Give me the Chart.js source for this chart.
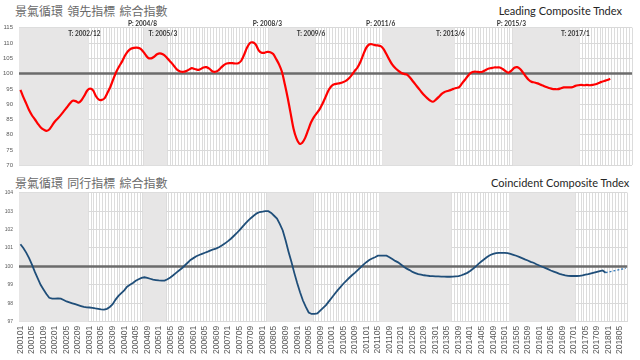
<!DOCTYPE html>
<html><head><meta charset="utf-8">
<script src="https://cdn.jsdelivr.net/npm/chart.js@4/dist/chart.umd.min.js"></script>
<style>
html,body{margin:0;padding:0;background:#fff;width:640px;height:360px;overflow:hidden;position:relative;}
canvas{position:absolute;left:0;}
#c1{top:0;}
#c2{top:175px;}
.t{position:absolute;white-space:nowrap;line-height:1;}
.zh{font-family:"Noto Sans CJK TC","Noto Sans CJK SC",sans-serif;font-size:12px;color:#6a6a6a;left:15px;word-spacing:1.5px;}
.en{font-family:Lato,sans-serif;font-size:11px;color:#262626;}
</style></head><body>
<div class="t zh" style="top:5px">景氣循環 領先指標 綜合指數</div>
<div class="t en" style="top:4.9px;right:18px">Leading Composite Tndex</div>
<div class="t zh" style="top:176.6px">景氣循環 同行指標 綜合指數</div>
<div class="t en" style="top:176.5px;right:10.7px">Coincident Composite Tndex</div>
<canvas id="c1" width="640" height="175"></canvas>
<canvas id="c2" width="640" height="185"></canvas>
<script>
// ---- categories: monthly 2001/01 .. 2018/07
const firstYear = 2001, lastYear = 2018, lastMonth = 7;
const months = [];
for (let y = firstYear; y <= lastYear; y++) {
  for (let m = 1; m <= 12; m++) {
    if (y === lastYear && m > lastMonth) break;
    months.push(String(y) + String(m).padStart(2, '0'));
  }
}
const tickEvery = 4;

// ---- turning points (peaks / troughs)
const peaks   = ['200408', '200803', '201106', '201503'];
const troughs = ['200212', '200503', '200906', '201306', '201701'];
const refLevel = 100;

// ---- Leading composite index (2001/01 .. 2018/01)
const leading = [
  94.7, 92.3, 90.2, 88.0, 86.3, 85.0, 83.6, 82.4, 81.7, 81.3, 81.8, 83.2,
  84.5, 85.5, 86.6, 87.8, 89.0, 90.2, 91.1, 91.0, 90.5, 91.3, 92.8, 94.5,
  95.1, 94.5, 92.6, 91.5, 91.4, 92.0, 93.8, 95.8, 98.3, 100.6, 102.4, 104.0,
  105.9, 107.3, 108.1, 108.4, 108.5, 108.3, 107.5, 106.2, 105.1, 105.0, 105.5, 106.3,
  106.6, 106.3, 105.6, 104.5, 103.5, 102.3, 101.2, 100.7, 100.6, 100.8, 101.3, 101.8,
  101.5, 101.2, 101.5, 102.0, 102.1, 101.6, 100.8, 100.6, 101.0, 101.9, 102.8, 103.3,
  103.4, 103.4, 103.3, 103.4, 104.2, 106.2, 108.5, 110.0, 110.2, 109.5, 107.6, 106.8,
  106.8, 107.1, 107.0, 106.4, 104.8, 103.0, 100.6, 96.5, 92.0, 87.0, 82.0, 78.8,
  77.1, 77.4, 79.0, 81.5, 84.0, 85.8, 87.1, 88.4, 90.2, 92.3, 94.5, 95.9,
  96.5, 96.7, 96.9, 97.2, 97.6, 98.4, 99.5, 100.8, 102.0, 103.8, 106.2, 108.4,
  109.5, 109.6, 109.3, 109.2, 109.0, 108.0, 106.3, 104.5, 102.9, 101.8, 101.0, 100.3,
  99.9, 99.7, 98.8, 97.6, 96.4, 95.2, 94.0, 92.9, 92.0, 91.2, 90.8, 91.5,
  92.4, 93.4, 94.0, 94.3, 94.6, 95.0, 95.3, 95.6, 96.8, 98.0, 99.2, 100.2,
  100.6, 100.6, 100.5, 100.6, 101.1, 101.6, 101.8, 102.0, 102.0, 102.0, 101.5, 100.8,
  100.3, 101.0, 101.9, 102.1, 101.5, 100.3, 99.0, 97.9, 97.3, 97.1, 96.8, 96.4,
  96.0, 95.6, 95.3, 95.0, 94.9, 94.9, 95.2, 95.5, 95.5, 95.5, 95.6, 96.0,
  96.2, 96.3, 96.2, 96.3, 96.2, 96.3, 96.5, 96.9, 97.3, 97.6, 97.9, 98.3
];

// ---- Coincident composite index (2001/01 .. 2017/12)
const coincident = [
  101.2, 101.0, 100.75, 100.45, 100.1, 99.7, 99.35, 99.0, 98.75, 98.5, 98.3, 98.25,
  98.25, 98.27, 98.25, 98.18, 98.1, 98.05, 98.0, 97.95, 97.9, 97.85, 97.8, 97.78,
  97.77, 97.75, 97.72, 97.7, 97.67, 97.66, 97.7, 97.8, 97.95, 98.2, 98.4, 98.55,
  98.7, 98.9, 99.0, 99.1, 99.22, 99.3, 99.38, 99.41, 99.38, 99.33, 99.28, 99.26,
  99.24, 99.23, 99.23, 99.3, 99.4, 99.52, 99.65, 99.78, 99.9, 100.05, 100.2, 100.35,
  100.45, 100.55, 100.62, 100.68, 100.74, 100.8, 100.87, 100.93, 100.98, 101.05, 101.15, 101.25,
  101.37, 101.5, 101.65, 101.8, 101.97, 102.15, 102.32, 102.48, 102.63, 102.76, 102.88, 102.95,
  102.97, 103.0, 103.0, 102.9, 102.75, 102.6, 102.3, 101.95, 101.4, 100.8, 100.25, 99.65,
  99.1, 98.6, 98.15, 97.8, 97.5, 97.42, 97.42, 97.45, 97.6, 97.75, 97.9, 98.1,
  98.3, 98.5, 98.7, 98.88, 99.06, 99.22, 99.37, 99.52, 99.65, 99.8, 99.95, 100.1,
  100.23, 100.35, 100.43, 100.5, 100.58, 100.59, 100.59, 100.58, 100.5, 100.4, 100.3, 100.22,
  100.1, 99.98, 99.88, 99.8, 99.7, 99.64, 99.58, 99.55, 99.52, 99.5, 99.48, 99.47,
  99.46, 99.46, 99.45, 99.45, 99.44, 99.44, 99.45, 99.46, 99.47, 99.52, 99.58, 99.65,
  99.75, 99.87, 100.0, 100.15, 100.28, 100.4, 100.52, 100.62, 100.68, 100.72, 100.74, 100.74,
  100.73, 100.72, 100.68, 100.63, 100.58, 100.52, 100.45, 100.38, 100.32, 100.25, 100.2, 100.12,
  100.05, 99.98, 99.92, 99.85, 99.78, 99.72, 99.66, 99.6, 99.55, 99.51, 99.49, 99.48,
  99.48, 99.48, 99.49, 99.51, 99.55, 99.58, 99.62, 99.66, 99.7, 99.74, 99.78, 99.66
];

// ---- Coincident dotted extension
const trendMonths = ['201712', '201807'];
const trendValues = [99.66, 99.9];

// ---- axis ticks
const leadTicks = {min: 70, max: 115, step: 5};
const coinTicks = {min: 97, max: 104, step: 1};

// shaded periods: peak -> trough (first one starts at the first month)
const periods = troughs.map((t, k) => [k === 0 ? months[0] : peaks[k - 1], t]);
const fmt = s => s.slice(0, 4) + '/' + parseInt(s.slice(4), 10);

const periodPlugin = {
  id: 'periods',
  beforeDatasetsDraw(chart) {
    const {ctx, chartArea: a, scales: {x, y}} = chart;
    const half = (x.getPixelForValue(1) - x.getPixelForValue(0)) / 2;
    ctx.save();
    ctx.fillStyle = '#e7e6e6';
    periods.forEach(([s, e]) => {
      const x0 = Math.max(a.left, x.getPixelForValue(months.indexOf(s)) - half);
      const x1 = Math.min(a.right, x.getPixelForValue(months.indexOf(e)) + half);
      ctx.fillRect(x0, a.top, x1 - x0, a.bottom - a.top);
    });
    const ry = y.getPixelForValue(refLevel);
    ctx.strokeStyle = '#6b6b6b';
    ctx.lineWidth = 2.5;
    ctx.beginPath(); ctx.moveTo(a.left, ry); ctx.lineTo(a.right, ry); ctx.stroke();
    ctx.restore();
  },
  afterDatasetsDraw(chart, args, opts) {
    if (!opts.labels) return;
    const {ctx, chartArea: a, scales: {x}} = chart;
    ctx.save();
    ctx.font = 'bold 6.5px Lato, sans-serif';
    ctx.fillStyle = '#333';
    ctx.textAlign = 'center';
    ctx.textBaseline = 'middle';
    peaks.forEach(p => ctx.fillText('P: ' + fmt(p), x.getPixelForValue(months.indexOf(p) - 1), a.top - 4.2));
    troughs.forEach(t => ctx.fillText('T: ' + fmt(t), x.getPixelForValue(months.indexOf(t) - 1), a.top + 6.3));
    ctx.restore();
  }
};

function makeChart(id, datasets, ticks, yFont, showX, padding, xHeight, labels) {
  return new Chart(document.getElementById(id), {
    type: 'line',
    data: {labels: months, datasets},
    plugins: [periodPlugin],
    options: {
      responsive: false, animation: false, devicePixelRatio: 1,
      layout: {padding},
      plugins: {legend: {display: false}, tooltip: {enabled: false}, periods: {labels}},
      elements: {point: {radius: 0}},
      scales: {
        x: {
          type: 'category', offset: true,
          grid: {color: '#dcdcdc', lineWidth: 1, offset: true, drawTicks: false},
          border: {display: false},
          ticks: {
            display: showX, autoSkip: false, minRotation: 90, maxRotation: 90, padding: 4,
            color: '#595959', font: {size: 8.5, family: "'Liberation Sans', Arial, sans-serif"},
            callback: (v, i) => (i % tickEvery === 0 ? months[i] : '')
          },
          afterFit: s => { s.height = xHeight; }
        },
        y: {
          min: ticks.min, max: ticks.max,
          grid: {color: '#d9d9d9', lineWidth: 1, drawTicks: false},
          border: {display: false},
          ticks: {stepSize: ticks.step, padding: 6, color: '#595959',
                  font: {size: yFont, family: "'Liberation Sans', Arial, sans-serif"}},
          afterFit: s => { s.width = 19; }
        }
      }
    }
  });
}

makeChart('c1', [
  {data: leading, borderColor: '#ff0000', borderWidth: 2.2, tension: 0.3, fill: false}
], leadTicks, 6, false, {left: 0, right: 8, top: 27.7, bottom: 5.7}, 0, true);

makeChart('c2', [
  {data: coincident, borderColor: '#1f4e79', borderWidth: 1.8, tension: 0, fill: false},
  {data: trendMonths.map((m, k) => ({x: m, y: trendValues[k]})), borderColor: '#2e75b6',
   borderWidth: 1.3, borderDash: [2, 2], tension: 0, fill: false}
], coinTicks, 5, true, {left: 0, right: 8, top: 17.7, bottom: 0}, 38.3, false);
</script>
</body></html>
